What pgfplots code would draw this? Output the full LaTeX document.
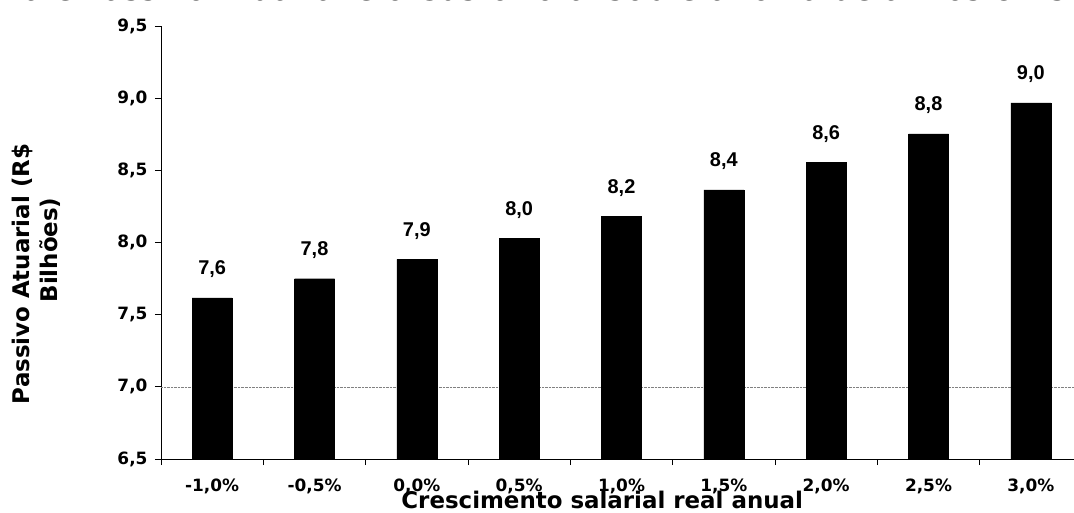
\documentclass[border=0pt]{standalone}
\usepackage{pgfplots}
\pgfplotsset{compat=1.18}
\usepackage{fontspec}
\setmainfont{DejaVu Sans}
\newfontfamily\libsans{Liberation Sans}
\begin{document}
\begin{tikzpicture}
\begin{axis}[
  at={(161bp,54bp)}, anchor=south west,
  width=921bp, height=433bp, scale only axis,
  xmin=-0.5, xmax=8.5, ymin=6.5, ymax=9.5,
  axis x line*=bottom, axis y line*=left,
  axis line style={line width=1bp, -},
  tick align=outside,
  xtick={0,...,8},
  xticklabels={{-1,0\%},{-0,5\%},{0,0\%},{0,5\%},{1,0\%},{1,5\%},{2,0\%},{2,5\%},{3,0\%}},
  major x tick style={draw=none},
  minor xtick={-0.5,0.5,...,8.5},
  minor tick length=6bp,
  minor x tick style={line width=0.8bp, black},
  ytick={6.5,7,...,9.5},
  major tick length=6bp,
  major y tick style={line width=0.8bp, black},
  yticklabel style={xshift=-4bp, /pgf/number format/.cd, fixed, fixed zerofill, precision=1, use comma, assume math mode=true},
  every tick label/.append style={font=\bfseries\fontsize{17}{17}\selectfont},
  xticklabel style={anchor=base, yshift=-26bp},
  extra y ticks={7},
  extra y tick labels={},
  extra y tick style={grid=major, major grid style={densely dotted, gray, line width=0.6bp}, major tick length=0pt},
  xlabel={Crescimento salarial real anual},
  xlabel style={at={(axis description cs:0.479,0)}, anchor=base, yshift=-49bp, font=\bfseries\fontsize{23}{23}\selectfont, inner sep=0pt},
  ybar, bar width=40bp,
  point meta=explicit symbolic,
  nodes near coords,
  every node near coord/.append style={anchor=base, yshift=23bp, inner sep=0pt, font=\libsans\bfseries\fontsize{20}{20}\selectfont},
]
\addplot[fill=black, draw=black] coordinates {
  (0,7.617) [7,6]
  (1,7.749) [7,8]
  (2,7.883) [7,9]
  (3,8.030) [8,0]
  (4,8.183) [8,2]
  (5,8.364) [8,4]
  (6,8.554) [8,6]
  (7,8.753) [8,8]
  (8,8.967) [9,0]
};
\end{axis}
\node[rotate=90, anchor=base, inner sep=0pt, font=\bfseries\fontsize{23}{23}\selectfont] at (29bp,239bp) {Passivo Atuarial (R\$};
\node[rotate=90, anchor=base, inner sep=0pt, font=\bfseries\fontsize{23}{23}\selectfont] at (57bp,263bp) {Bilhões)};
\node[anchor=base west, inner sep=0pt, font=\fontsize{33}{33}\selectfont] at (10bp,512bp) {ra e Passivo Atuarial e o Custo Total sobre a folha de ativos civis};
\pgfresetboundingbox
\path[use as bounding box] (0,0) rectangle (1074bp,513bp);
\end{tikzpicture}
\end{document}
